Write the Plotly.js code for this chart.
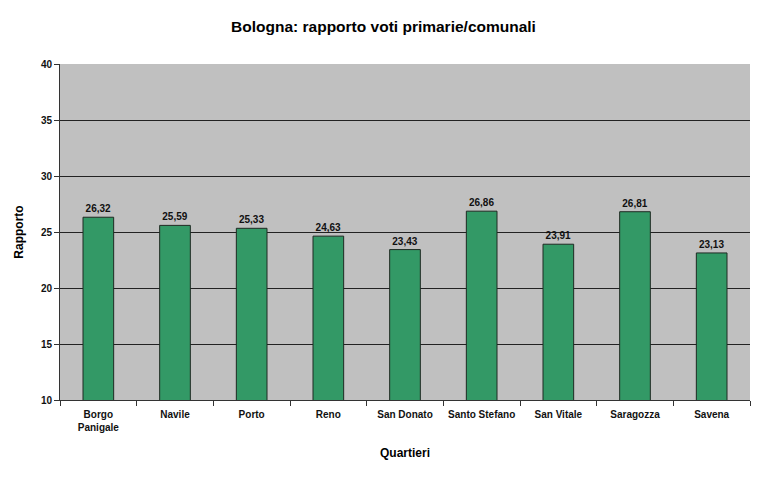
<!DOCTYPE html>
<html>
<head>
<meta charset="utf-8">
<script src="https://cdn.plot.ly/plotly-3.0.1.min.js"></script>
<style>html,body{margin:0;padding:0;background:#fff;}#chart{width:767px;height:478px;}</style>
</head>
<body>
<div id="chart"></div>
<script>
const quartieri = ["Borgo<br>Panigale", "Navile", "Porto", "Reno", "San Donato", "Santo Stefano", "San Vitale", "Saragozza", "Savena"];
const rapporto = [26.32, 25.59, 25.33, 24.63, 23.43, 26.86, 23.91, 26.81, 23.13];
const yTicks = [10, 15, 20, 25, 30, 35, 40];

const font = "Liberation Sans, Arial, sans-serif";

Plotly.newPlot("chart", [{
  type: "bar",
  x: quartieri,
  y: rapporto,
  marker: {color: "#339966", line: {color: "#1e2a22", width: 1}},
  text: rapporto.map(v => v.toFixed(2).replace(".", ",")),
  textposition: "outside",
  cliponaxis: false,
  textfont: {family: font, size: 10, color: "#111", weight: "bold"},
  hoverinfo: "none"
}], {
  width: 767, height: 478,
  margin: {l: 60, r: 17, t: 64, b: 78},
  paper_bgcolor: "#ffffff",
  plot_bgcolor: "#c0c0c0",
  bargap: 0.6,
  showlegend: false,
  title: {text: "Bologna: rapporto voti primarie/comunali", x: 0.5, xanchor: "center", y: 0.945, yanchor: "middle",
          font: {family: font, size: 15.5, color: "#000", weight: "bold"}},
  xaxis: {
    type: "category",
    tickson: "boundaries",
    ticks: "outside", ticklen: 5, tickcolor: "#333",
    ticklabelstandoff: 5,
    showline: true, linecolor: "#333", linewidth: 1,
    showgrid: false,
    tickfont: {family: font, size: 10, color: "#111", weight: "bold"},
    title: {text: "Quartieri", standoff: 16, font: {family: font, size: 12, color: "#000", weight: "bold"}}
  },
  yaxis: {
    range: [10, 40],
    tickvals: yTicks,
    ticktext: yTicks.map(String),
    ticks: "outside", ticklen: 5, tickcolor: "#333",
    showline: true, linecolor: "#333", linewidth: 1,
    showgrid: true, gridcolor: "#222", gridwidth: 1,
    zeroline: false,
    tickfont: {family: font, size: 10, color: "#111", weight: "bold"},
    title: {text: "Rapporto", standoff: 14, font: {family: font, size: 12, color: "#000", weight: "bold"}}
  }
}, {staticPlot: true});
</script>
</body>
</html>
